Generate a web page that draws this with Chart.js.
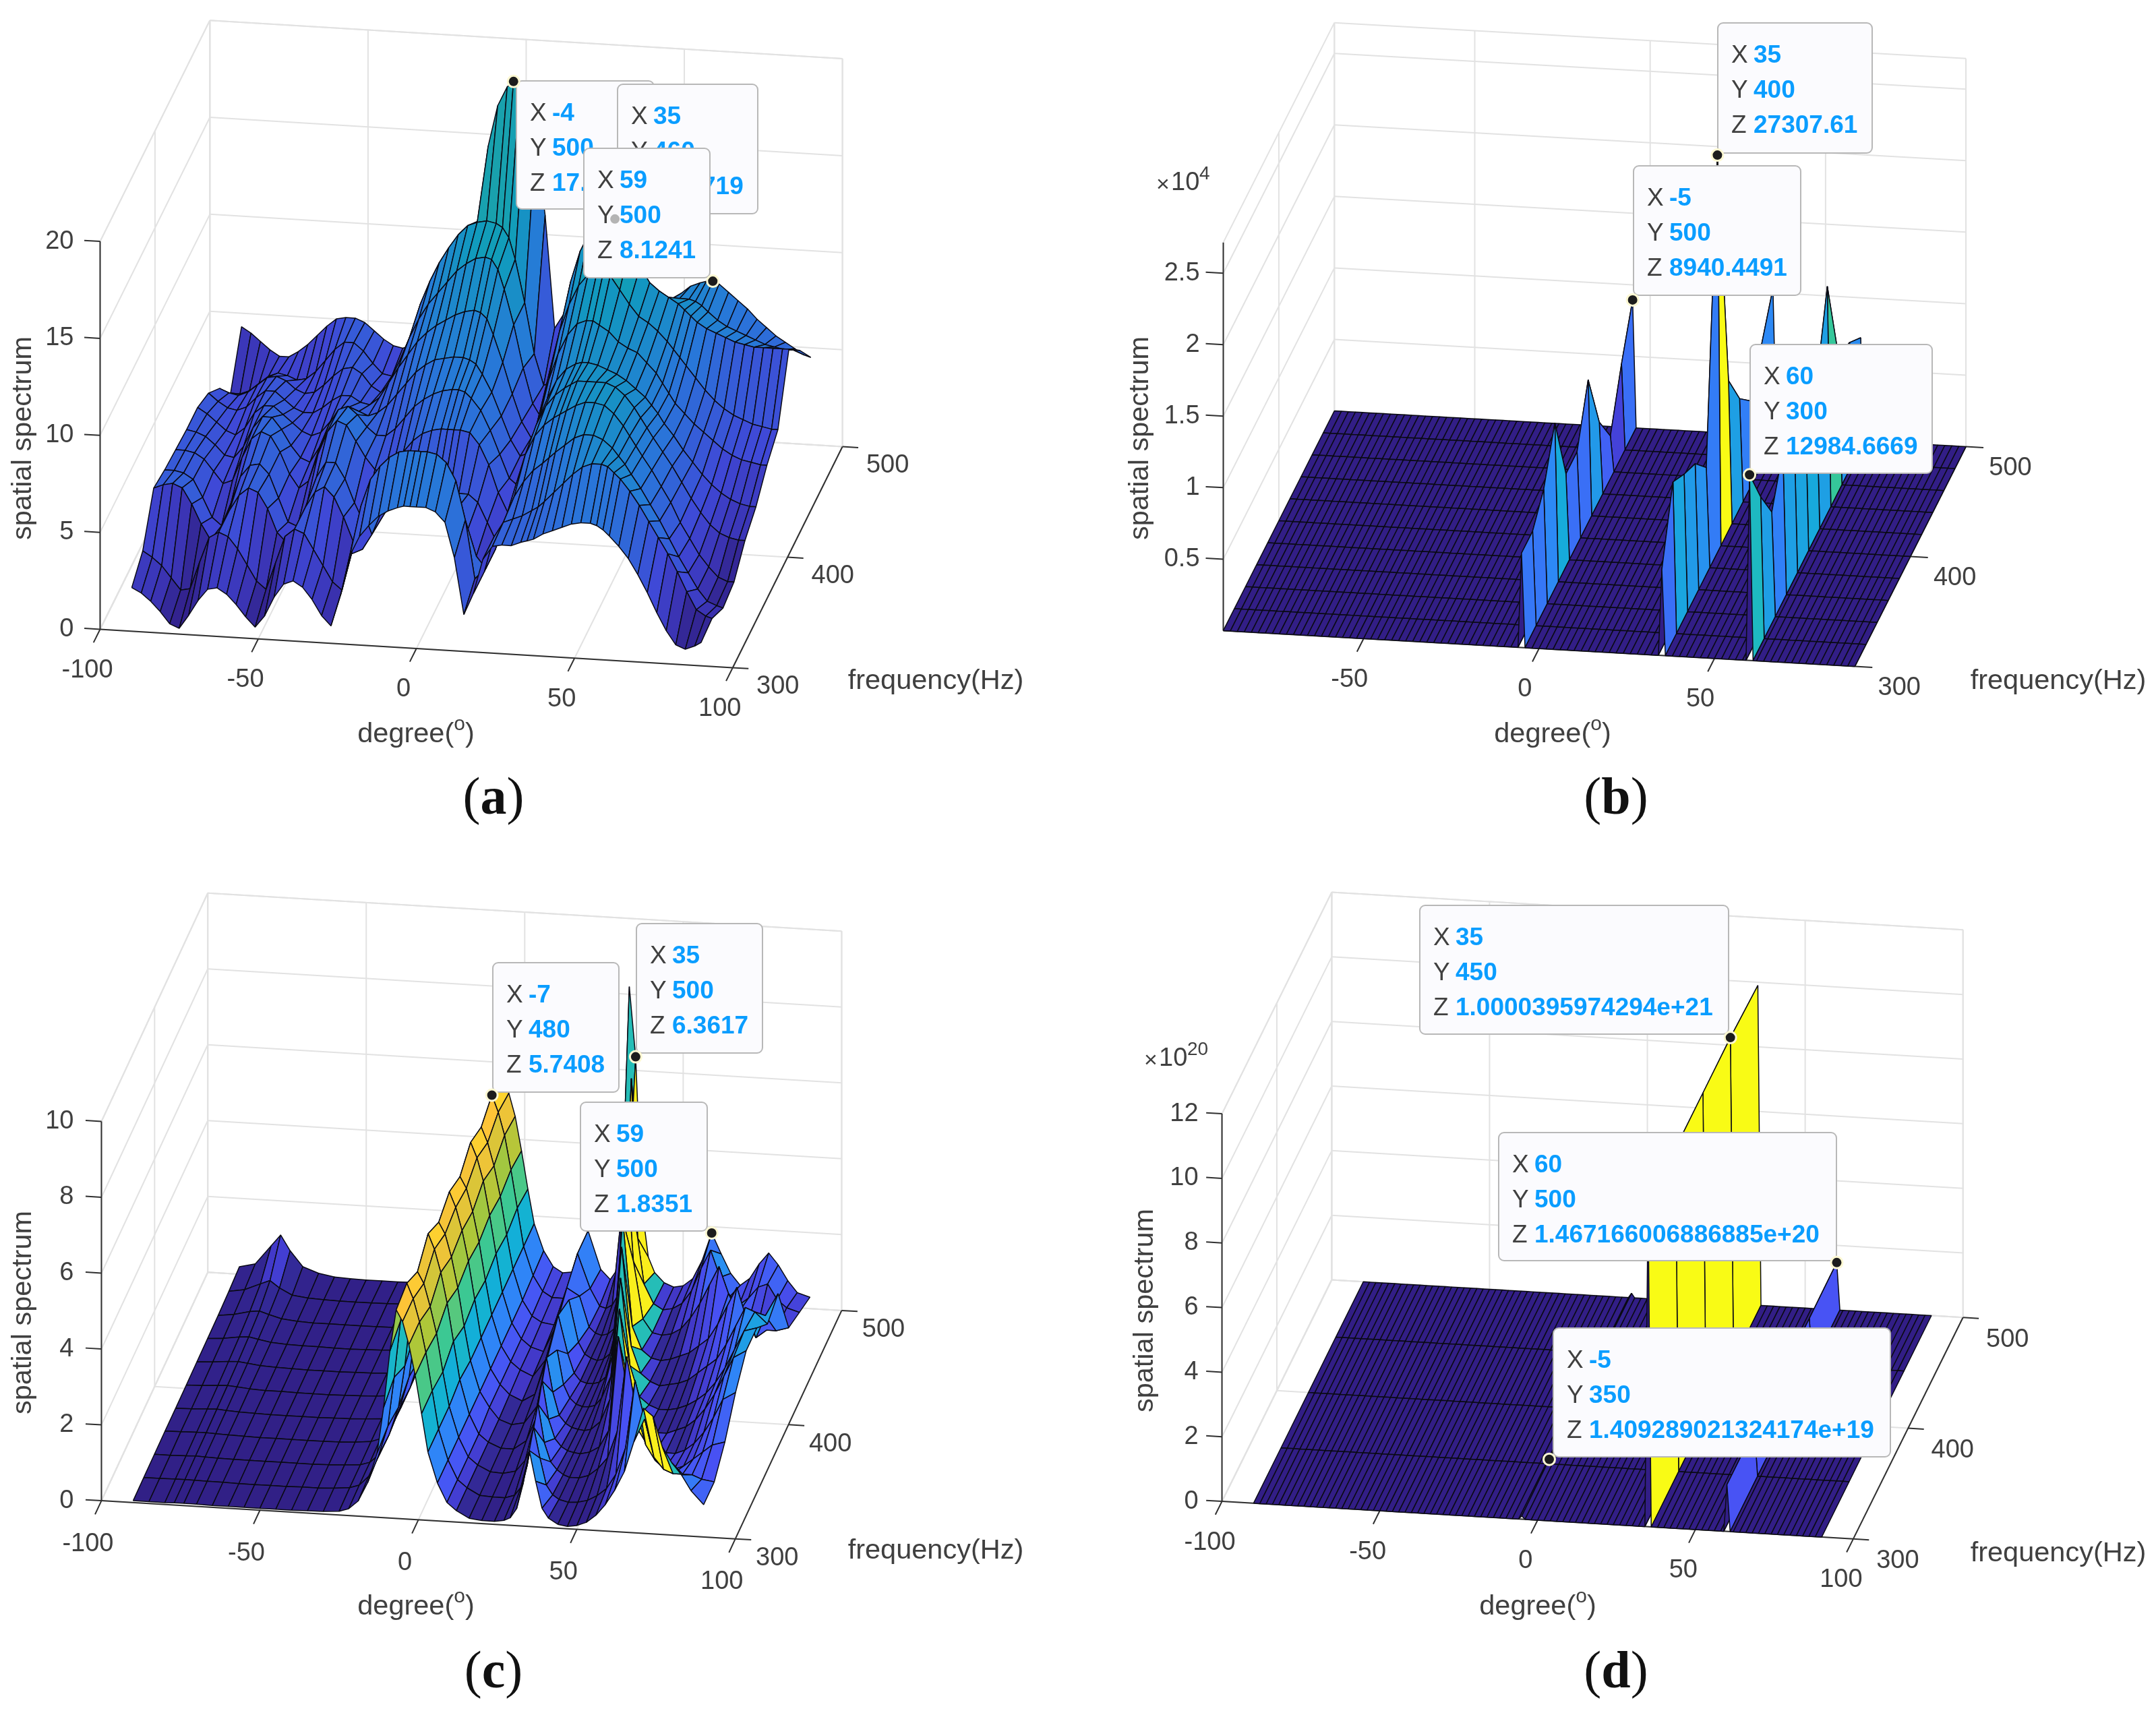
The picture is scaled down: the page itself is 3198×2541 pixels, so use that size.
<!DOCTYPE html>
<html>
<head>
<meta charset="utf-8">
<title>Spatial spectrum</title>
<style>
html, body { margin: 0; background: #fff; }
body { position: relative; width: 3198px; height: 2541px; overflow: hidden; }
canvas { position: absolute; }
</style>
<script src="https://cdn.jsdelivr.net/npm/chart.js@4/dist/chart.umd.min.js"></script>
</head>
<body>
<canvas id="chartA" width="1599" height="1270" style="left:0;top:0"></canvas>
<canvas id="chartB" width="1599" height="1270" style="left:1599px;top:0"></canvas>
<canvas id="chartC" width="1599" height="1271" style="left:0;top:1270px"></canvas>
<canvas id="chartD" width="1599" height="1271" style="left:1599px;top:1270px"></canvas>
<script>
// === DATA ===
const degreeTicks = [-100, -50, 0, 50, 100];
const degreeTicksB = [-50, 0, 50];
const freqTicks = [300, 400, 500];
const zTicksA = [0, 5, 10, 15, 20];
const zTicksB = [0.5, 1, 1.5, 2, 2.5];
const zTicksC = [0, 2, 4, 6, 8, 10];
const zTicksD = [0, 2, 4, 6, 8, 10, 12];

const freqRows = [300, 320, 340, 360, 380, 400, 420, 440, 460, 480, 500];
const freqRowsD = [300, 350, 400, 450, 500];

// (a) read row by row, z in plain units
const degreesA = [-90, -87, -84, -81, -78, -75, -72, -69, -66, -63,
  -60, -57, -54, -51, -48, -45, -42, -39, -36, -33,
  -30, -27, -24, -21, -18, -15, -12, -9, -6,
  -4, -2, 0, 3, 6, 9, 12, 15, 18, 21,
  24, 27, 30, 33, 35, 37, 40, 43, 46, 49,
  52, 55, 57, 59, 61, 64, 67, 70, 73, 76,
  79, 82, 85, 88, 90];
const spectrumA = [
  [2.25,2.0,1.6,1.1,.5,.3,1.0,1.8,2.4,2.5, 2.2,1.7,1.1,.6,1.2,2.2,2.9,3.1,2.8,2.2, 1.4,.9,2.5,4.6,5.6,6.2,6.7,7.0,7.2, 7.3,7.3,7.3,7.3,7.1,6.6,4.8,1.9,3.0,4.8, 5.5,5.6,5.6,5.8,5.9,6.0,6.3,6.5,6.7,6.9, 7.0,7.0,6.9,6.7,6.4,5.9,5.3,4.5,3.6,2.6, 1.7,1.0,.8,1.0,1.2],
  [3.0,2.7,2.3,1.7,1.1,1.2,2.6,3.9,4.2,4.0, 3.4,2.6,1.8,1.4,2.8,4.2,4.6,4.4,3.6,2.8, 2.0,1.6,3.5,6.0,7.4,8.1,8.6,8.9,9.0, 9.0,9.0,9.0,8.9,8.5,7.6,5.6,2.6,3.0,4.8, 5.6,5.8,6.0,6.3,6.5,6.8,7.3,7.8,8.3,8.7, 8.9,8.9,8.8,8.5,8.2,7.6,6.9,6.1,5.3,4.5, 3.6,2.6,1.7,1.4,1.3],
  [5.1,5.3,5.4,5.2,4.4,3.4,2.6,3.0,4.2,5.0, 5.4,5.2,4.4,3.2,2.7,3.4,4.6,5.4,5.7,5.2, 4.2,3.0,2.6,3.4,4.6,5.4,5.9,6.2,6.4, 6.5,6.5,6.4,6.0,5.0,3.8,2.6,2.0,3.0,4.5, 5.8,6.6,7.2,7.6,7.9,8.2,8.6,9.0,9.2,9.2, 9.0,8.6,8.2,7.8,7.3,6.6,5.8,5.0,4.1,3.2, 2.4,1.6,1.0,.8,.7],
  [4.9,4.9,4.8,4.5,3.6,2.6,2.2,3.4,4.8,5.4, 5.5,5.0,3.8,2.6,2.4,3.6,5.0,5.8,5.8,5.0, 3.8,2.8,2.6,3.2,4.0,4.6,5.0,5.0,4.8, 4.6,4.5,4.5,4.6,4.6,4.2,3.2,2.2,3.4,5.2, 6.8,7.8,8.4,8.8,9.0,9.2,9.5,9.7,9.7,9.6, 9.2,8.6,8.1,7.6,7.1,6.4,5.6,4.8,3.8,3.0, 2.2,1.6,1.1,.9,.9],
  [4.8,4.8,4.7,4.4,3.8,3.2,3.4,4.6,5.6,6.0, 5.8,5.0,3.9,3.2,3.6,5.0,6.2,6.8,6.6,5.8, 5.0,4.4,4.2,4.8,5.4,6.0,6.4,6.6,6.7, 6.7,6.7,6.7,6.6,6.0,5.0,3.6,2.6,3.8,5.6, 7.2,8.2,8.8,9.2,9.4,9.6,9.6,9.6,9.6,9.4, 9.0,8.4,7.9,7.4,6.9,6.2,5.5,4.7,3.9,3.2, 2.6,2.2,2.0,1.9,1.9],
  [4.7,4.6,4.4,4.0,3.5,3.4,4.0,5.0,5.6,5.6, 5.0,4.2,3.6,3.4,4.2,5.4,6.2,6.4,6.0,5.4, 5.0,5.0,5.4,6.0,6.6,7.0,7.3,7.5,7.6, 7.6,7.5,7.2,6.6,5.6,4.4,3.2,2.8,4.2,6.0, 7.4,8.4,9.0,9.3,9.4,9.4,9.3,9.1,8.9,8.6, 8.2,7.8,7.4,7.0,6.5,5.9,5.2,4.6,4.0,3.5, 3.1,2.8,2.6,2.5,2.5],
  [4.7,4.4,4.0,3.6,3.4,3.8,4.6,5.0,5.0,4.6, 4.2,3.8,3.6,3.8,4.4,5.0,5.2,5.0,4.8,5.0, 5.4,6.0,6.6,7.2,7.6,7.9,8.0,8.1,8.1, 8.0,7.8,7.3,6.4,5.2,4.0,3.2,3.4,5.4,7.2, 8.6,9.6,10.2,10.4,10.4,10.2,9.9,9.4,9.1,8.9, 8.4,7.9,7.4,6.9,6.4,5.9,5.4,5.0,4.6,4.2, 3.9,3.7,3.6,3.5,3.5],
  [4.3,3.9,3.6,3.5,3.7,4.2,4.6,4.6,4.2,3.8, 3.6,3.6,3.9,4.3,4.6,4.6,4.3,4.2,4.6,5.4, 6.2,6.9,7.6,8.1,8.5,8.8,9.1,9.3,9.4, 9.3,9.0,8.2,6.8,5.2,3.8,3.0,4.0,6.6,8.6, 10.0,11.0,11.6,11.9,11.9,11.6,10.9,10.2,9.6,9.3, 8.9,8.4,8.0,7.6,7.2,6.6,6.0,5.5,5.1,4.8, 4.6,4.4,4.3,4.2,4.2],
  [3.4,3.2,3.1,3.3,3.7,4.1,4.2,4.0,3.6,3.4, 3.5,3.9,4.4,4.8,4.9,4.6,4.0,3.7,4.2,5.4, 6.6,7.6,8.4,9.0,9.6,10.2,10.6,10.9,11.0, 10.9,10.4,9.4,7.6,5.4,3.6,2.8,4.6,7.6,10.0, 11.6,12.6,13.1,13.4,13.4,13.2,12.2,11.0,10.2,9.8, 9.5,9.2,8.9,8.6,8.3,8.0,7.8,7.6,7.4,7.3, 7.2,7.2,7.2,7.2,7.2],
  [2.0,2.0,2.2,2.6,3.0,3.2,3.1,2.9,3.0,3.4, 4.0,4.6,5.0,5.0,4.6,4.0,3.5,3.4,4.2,5.6, 7.2,8.4,9.4,10.2,10.9,11.4,11.6,11.7,11.6, 11.4,10.9,9.8,7.6,5.0,3.4,3.6,6.0,6.0,8.6, 9.6,10.2,10.6,10.8,10.8,10.5,9.6,8.6,8.2,8.2, 8.3,8.3,8.2,8.0,7.7,7.3,7.0,6.8,6.6,6.4, 6.2,6.1,6.0,6.0,6.0],
  [4.3,4.0,3.6,3.2,2.9,2.9,3.2,3.6,4.1,4.6, 5.0,5.1,5.1,4.9,4.5,4.1,3.8,3.7,3.9,4.8, 5.7,6.6,7.4,7.9,8.3,10.5,14.4,16.5,17.5, 17.8,17.4,16.6,14.8,11,5.2,6,8.1,4.5,6, 7,7.5,8,8.3,8.3,8.1,7.6,7.1,7.1,7.4, 7.8,8,8.1,8.12,8,7.6,7.2,6.8,6.3,5.9, 5.5,5.2,4.9,4.6,4.5]
];
const markerPointsA = [[-4, 500, 17.7982], [35, 460, 13.3719], [59, 500, 8.1241]];
const tipLinesA = [['-4', '500', '17.7982'], ['35', '460', '13.3719'], ['59', '500', '8.1241']];

// (b) and (d) are flat except for single-degree ridges
const sparseDegrees = [-90, -88, -86, -84, -82, -80, -78, -76, -74, -72, -70, -68, -66, -64, -62, -60, -58, -56, -54, -52,
  -50, -48, -46, -44, -42, -40, -38, -36, -34, -32, -30, -28, -26, -24, -22, -20, -18, -16, -14, -12, -10, -8, -6, -5, -4, -2,
  0, 2, 4, 6, 8, 10, 12, 14, 16, 18, 20, 22, 24, 26, 28, 30, 32, 34, 35, 36, 38, 40, 42, 44, 46, 48, 50, 52, 54, 56, 58, 59, 60, 61, 62,
  64, 66, 68, 70, 72, 74, 76, 78, 80, 82, 84, 86, 88, 90];
const ridgeDegrees = [-5, 35, 60];
const ridgeRowsB = [
  [.66, .66, .8, 1.11, .6, .6, .95, .5, .25, .6, .894],
  [.6, 1.06, .96, .88, .7, 2.7308, 1.0, .72, .55, .8, 1.03],
  [1.2985, .99, .73, 1.0, 1.05, 1.1, 1.0, 1.54, .9, .84, .72]
];
const markerPointsB = [[35, 400, 2.7308], [-5, 500, .894], [60, 300, 1.2985]];
const tipLinesB = [['35', '400', '27307.61'], ['-5', '500', '8940.4491'], ['60', '300', '12984.6669']];

// (c) read row by row
const degreesC = [-90, -85, -80, -77, -74, -70, -65, -60, -55, -50,
  -45, -40, -35, -30, -25, -22, -19, -16, -13, -11,
  -9, -7, -5, -3, -1, 1, 3, 6, 9, 12,
  16, 20, 24, 27, 29, 31, 33, 35, 37, 39,
  41, 44, 47, 50, 53, 56, 59, 62, 65, 68,
  71, 74, 77, 80, 83, 86, 90];
const spectrumC = [
  [.05,.05,.05,.06,.06,.06,.05,.05,.05,.05, .05,.05,.06,.07,.1,.18,.4,.9,1.7,2.9, 4.4,5.5,5.2,4.6,3.8,2.8,1.8,1.0,.5,.3, .12,.08,.08,.12,.2,.45,1.1,2.0,1.2,.5, .25,.1,.06,.1,.2,.4,.7,1.1,1.6,2.4, 3.3,3.1,2.3,1.9,1.6,1.2,.85],
  [.06,.06,.07,.07,.07,.06,.06,.05,.05,.05, .05,.06,.06,.08,.12,.2,.45,1.0,1.8,3.1, 4.6,5.6,5.2,4.6,3.8,2.8,1.8,1.0,.5,.3, .12,.1,.1,.18,.4,1.0,2.0,1.2,.5,.25, .14,.08,.1,.16,.3,.5,.9,1.6,3.4,2.4, 1.4,1.1,1.0,1.0,1.0,.9,.85],
  [.07,.07,.08,.09,.08,.07,.06,.06,.06,.06, .06,.06,.07,.09,.12,.2,.42,.95,1.7,2.8, 4.3,5.3,5.0,4.4,3.7,2.7,1.8,1.0,.5,.3, .14,.12,.2,.5,.9,2.0,1.0,.5,.3,.18, .12,.12,.2,.4,.7,1.4,3.4,2.0,1.1,.7, .5,.5,.6,.8,1.0,1.2,1.3],
  [.08,.09,.1,.1,.09,.08,.07,.06,.06,.06, .06,.06,.07,.09,.13,.22,.48,1.05,1.9,3.1, 4.7,5.7,5.3,4.7,3.9,2.9,1.9,1.0,.5,.3, .16,.16,.4,1.0,2.0,1.0,.5,.3,.2,.16, .14,.2,.35,.8,3.3,1.8,.9,.5,.35,.3, .3,.4,.6,.9,1.3,1.8,2.0],
  [.08,.09,.11,.12,.1,.08,.07,.06,.06,.06, .06,.07,.08,.1,.13,.2,.44,1.0,1.8,2.9, 4.4,5.4,5.1,4.5,3.7,2.7,1.8,1.0,.6,.3, .18,.25,.7,2.0,1.1,.5,.3,.2,.16,.14, .18,.4,1.0,3.4,1.4,.6,.3,.2,.2,.3, .4,.6,.9,1.3,1.8,2.3,2.5],
  [.09,.1,.13,.14,.12,.09,.07,.07,.06,.06, .06,.07,.08,.1,.14,.22,.47,1.05,1.9,3.0, 4.6,5.6,5.2,4.6,3.8,2.8,1.8,1.0,.6,.35, .2,.4,1.4,1.6,.7,.35,.2,.15,.15,.2, .4,1.0,3.6,1.3,.5,.3,.2,.2,.25,.35, .5,.7,1.0,1.4,1.9,2.4,2.5],
  [.1,.12,.16,.17,.14,.1,.08,.07,.06,.06, .06,.07,.08,.1,.14,.22,.45,1.0,1.8,2.9, 4.4,5.4,5.1,4.5,3.7,2.7,1.8,1.0,.6,.4, .25,.7,1.9,.9,.4,.2,.15,.15,.2,.35, .9,3.8,1.2,.5,.3,.2,.25,.3,.4,.6, .8,1.0,1.4,1.9,2.4,2.3,2.0],
  [.11,.14,.2,.22,.17,.11,.08,.07,.07,.06, .06,.07,.08,.11,.15,.24,.5,1.1,2.0,3.1, 4.7,5.7,5.3,4.7,3.8,2.8,1.8,1.0,.6,.4, .3,1.0,1.7,.6,.3,.2,.15,.2,.35,.9, 3.9,1.1,.5,.3,.25,.3,.4,.5,.7,.9, 1.3,1.8,2.3,1.5,1.0,1.6,2.2],
  [.12,.17,.27,.3,.22,.13,.09,.07,.07,.07, .07,.07,.08,.11,.15,.24,.48,1.05,1.9,3.0, 4.5,5.5,5.1,4.5,3.7,2.7,1.8,1.0,.6,.45, .4,1.4,1.2,.4,.25,.2,.25,.4,.9,4.6, 2.2,.7,.35,.3,.35,.5,.8,1.2,1.7,2.2, 1.5,1.0,.7,.6,.6,.6,.7],
  [.15,.22,.4,.5,.32,.15,.1,.08,.07,.07, .07,.08,.09,.11,.16,.25,.5,1.1,2.0,3.2, 4.7,5.74,5.3,4.7,3.8,2.8,1.8,1.05,.65,.5, .5,1.7,.8,.35,.3,.4,.7,1.6,6.4,2.2, 1.0,.5,.35,.4,.55,.9,1.5,2.0,1.3,.8, .6,.8,1.1,1.2,.8,.6,.5],
  [.2,.3,.8,1.1,.7,.3,.15,.08,.06,.05, .05,.05,.06,.1,.15,.25,.5,1.1,2.0,3.2, 4.7,5.6,5.2,4.6,3.7,2.7,1.8,1.1,.7,.55, .6,1.7,.7,.45,.7,2.6,8.2,6.36,2.4,1.1, .7,.45,.35,.4,.6,1.1,1.84,1.3,.8,.5, .7,1.1,1.4,1.1,.7,.4,.3]
];
// degree of the bright streak on each row of (c), it slides with frequency
const streakDegreesC = [72, 65, 59, 53, 50, 47, 44, 41, 39, 37, 34];
const markerPointsC = [[-7, 480, 5.7408], [35, 500, 6.3617], [59, 500, 1.8351]];
const tipLinesC = [['-7', '480', '5.7408'], ['35', '500', '6.3617'], ['59', '500', '1.8351']];

// (d) z in units of 1e20
const ridgeRowsD = [
  [.1, .1409, .12, .13, .14],
  [10.1, 10.0, 10.0, 10.0004, 9.9],
  [1.45, 1.45, 1.45, 1.45, 1.4672]
];
const markerPointsD = [[35, 450, 10.0004], [60, 500, 1.4672], [-5, 350, .1409]];
const tipLinesD = [['35', '450', '1.0000395974294e+21'], ['60', '500', '1.467166006886885e+20'], ['-5', '350', '1.409289021324174e+19']];

// parula colormap
const parula = [[62, 38, 168], [72, 82, 244], [46, 135, 247], [18, 177, 214], [55, 200, 151], [171, 199, 57], [254, 195, 56], [249, 251, 21]];

// === LAYOUT (page pixels) ===
const FONT = '"Liberation Sans", Arial, sans-serif';
const panels = [
  {
    id: 'chartA', left: 0, top: 0, width: 1599, height: 1270, letter: 'a', captionAt: [732, 1187],
    origin: [139, 939], ex: [4.76, .29], ey: [.826, -1.67], ez: 29.3, dMin: -100, dMax: 100, zMax: 20,
    degrees: degreesA, freqs: freqRows, z: spectrumA, cMax: 25, bodyShade: .88, floorShade: .8,
    degTicks: degreeTicks, zTicks: zTicksA, zLabels: ['0', '5', '10', '15', '20'], zLabelGap: 39,
    degOffset: [-19, 61], freqOffset: [67, 28], freqTitle: [1388, 1011], degTitle: [617, 1090], zTitle: [35, 650],
    markers: markerPointsA, markerHidden: [false, true, false], tipLines: tipLinesA,
    tipBoxes: [[766, 120, 970, 310], [916, 125, 1124, 317], [866, 220, 1053, 412]]
  },
  {
    id: 'chartB', left: 1599, top: 0, width: 1599, height: 1270, letter: 'b', captionAt: [2397, 1187],
    origin: [1806, 941], ex: [5.28, .3], ey: [.836, -1.66], ez: 216, dMin: -90, dMax: 90, zMax: 2.715,
    degrees: sparseDegrees, freqs: freqRows, ridges: ridgeRowsB, cMax: 2.73, bodyShade: 1, floorShade: .8,
    degTicks: degreeTicksB, zTicks: zTicksB, zLabels: ['0.5', '1', '1.5', '2', '2.5'], zLabelGap: 35,
    degOffset: [-21, 61], freqOffset: [66, 32], freqTitle: [3053, 1011], degTitle: [2303, 1090], zTitle: [1692, 650],
    exponent: ['4', 1715, 272],
    markers: markerPointsB, markerHidden: [false, false, false], tipLines: tipLinesB,
    tipBoxes: [[2548, 34, 2777, 227], [2423, 246, 2671, 438], [2596, 511, 2866, 702]]
  },
  {
    id: 'chartC', left: 0, top: 1270, width: 1599, height: 1271, letter: 'c', captionAt: [732, 2483],
    origin: [141, 2232], ex: [4.77, .288], ey: [.8, -1.725], ez: 57.3, dMin: -100, dMax: 100, zMax: 10,
    degrees: degreesC, freqs: freqRows, z: spectrumC, cMax: 6.4, bodyShade: 1, floorShade: .78, streak: streakDegreesC,
    degTicks: degreeTicks, zTicks: zTicksC, zLabels: ['0', '2', '4', '6', '8', '10'], zLabelGap: 41,
    degOffset: [-20, 64], freqOffset: [62, 29], freqTitle: [1388, 2301], degTitle: [617, 2384], zTitle: [35, 1947],
    markers: markerPointsC, markerHidden: [false, false, false], tipLines: tipLinesC,
    tipBoxes: [[731, 1428, 918, 1620], [944, 1370, 1131, 1562], [861, 1635, 1049, 1826]]
  },
  {
    id: 'chartD', left: 1599, top: 1270, width: 1599, height: 1271, letter: 'd', captionAt: [2397, 2483],
    origin: [1804, 2233], ex: [4.75, .284], ey: [.826, -1.673], ez: 48.8, dMin: -100, dMax: 100, zMax: 12,
    degrees: sparseDegrees, freqs: freqRowsD, ridges: ridgeRowsD, cMax: 10, bodyShade: 1, floorShade: .8,
    degTicks: degreeTicks, zTicks: zTicksD, zLabels: ['0', '2', '4', '6', '8', '10', '12'], zLabelGap: 35,
    degOffset: [-18, 61], freqOffset: [66, 33], freqTitle: [3053, 2305], degTitle: [2281, 2384], zTitle: [1699, 1944],
    exponent: ['20', 1697, 1571],
    markers: markerPointsD, markerHidden: [false, false, false], tipLines: tipLinesD,
    tipBoxes: [[2106, 1343, 2564, 1534], [2223, 1680, 2724, 1870], [2304, 1970, 2804, 2161]]
  }
];

// === HELPERS ===
function parulaColor(t, shade) {
  const v = Math.max(0, Math.min(1, t)) * (parula.length - 1);
  const i = Math.min(parula.length - 2, Math.floor(v));
  const c = parula[i].map((a, k) => (a + (parula[i + 1][k] - a) * (v - i)) * shade);
  return 'rgb(' + c.map(Math.round).join(',') + ')';
}

// oblique projection of a (degree, frequency, z) point, in canvas units
function project(p, d, f, z) {
  return {
    x: p.origin[0] - p.left + (d - p.dMin) * p.ex[0] + (f - 300) * p.ey[0],
    y: p.origin[1] - p.top + (d - p.dMin) * p.ex[1] + (f - 300) * p.ey[1] - z * p.ez
  };
}

// value of row j at column i, also for the sparse ridge tables
function zAt(p, j, i) {
  if (p.z) return p.z[j][i];
  const k = ridgeDegrees.indexOf(p.degrees[i]);
  return k < 0 ? 0 : p.ridges[k][j];
}

function lineSet(points, color, width) {
  return { data: points, showLine: true, fill: false, borderColor: color, borderWidth: width, pointRadius: 0, clip: false };
}

function buildDatasets(p) {
  const layers = [];
  const grid = '#e2e2e2', axis = '#303030';
  const fMin = 300, fMax = 500;
  const wallLevels = [0].concat(p.zTicks, [p.zMax]);

  // back wall, side wall and floor grid
  wallLevels.forEach(z => {
    layers.push(lineSet([project(p, p.dMin, fMax, z), project(p, p.dMax, fMax, z)], grid, 2));
    layers.push(lineSet([project(p, p.dMin, fMin, z), project(p, p.dMin, fMax, z)], grid, 2));
  });
  [p.dMin].concat(p.degTicks, [p.dMax]).forEach(d => {
    layers.push(lineSet([project(p, d, fMax, 0), project(p, d, fMax, p.zMax)], grid, 2));
    layers.push(lineSet([project(p, d, fMin, 0), project(p, d, fMax, 0)], grid, 2));
  });
  freqTicks.forEach(f => {
    layers.push(lineSet([project(p, p.dMin, f, 0), project(p, p.dMin, f, p.zMax)], grid, 2));
    layers.push(lineSet([project(p, p.dMin, f, 0), project(p, p.dMax, f, 0)], grid, 2));
  });

  // axes and tick marks
  layers.push(lineSet([project(p, p.dMin, fMin, 0), project(p, p.dMin, fMin, p.zMax)], axis, 2));
  layers.push(lineSet([project(p, p.dMin, fMin, 0), project(p, p.dMax, fMin, 0)], axis, 2));
  layers.push(lineSet([project(p, p.dMax, fMin, 0), project(p, p.dMax, fMax, 0)], axis, 2));
  p.zTicks.forEach(z => layers.push(lineSet([project(p, p.dMin, fMin, z), project(p, p.dMin - 5, fMin, z)], axis, 2)));
  p.degTicks.forEach(d => layers.push(lineSet([project(p, d, fMin, 0), project(p, d, fMin - 12, 0)], axis, 2)));
  freqTicks.forEach(f => layers.push(lineSet([project(p, p.dMax, f, 0), project(p, p.dMax + 5, f, 0)], axis, 2)));

  // surface, back rows first
  for (let j = p.freqs.length - 2; j >= 0; j--) {
    for (let i = 0; i < p.degrees.length - 1; i++) {
      const d0 = p.degrees[i], d1 = p.degrees[i + 1], f0 = p.freqs[j], f1 = p.freqs[j + 1];
      const first = zAt(p, j, i);
      let t = first / p.cMax;
      if (p.streak) {
        const off = Math.abs(d0 - p.streak[j]);
        if (off < 2.5) t = .97;
        else if (off < 6) t = Math.max(t, .5);
      }
      const shade = first / p.cMax < .05 ? p.floorShade : p.bodyShade;
      const quad = [
        project(p, d0, f0, first), project(p, d1, f0, zAt(p, j, i + 1)),
        project(p, d1, f1, zAt(p, j + 1, i + 1)), project(p, d0, f1, zAt(p, j + 1, i)),
        project(p, d0, f0, first)
      ];
      layers.push({
        data: quad, showLine: true, fill: 'shape', backgroundColor: parulaColor(t, shade),
        borderColor: '#0a0a14', borderWidth: 1.5, borderJoinStyle: 'bevel', pointRadius: 0, clip: false
      });
    }
  }

  // data cursors on top of everything, the tip boxes are painted just before them
  p.markers.forEach((m, k) => {
    const hidden = p.markerHidden[k];
    layers.push({
      data: [project(p, m[0], m[1], m[2])], showLine: false, pointRadius: hidden ? 7 : 8.5,
      pointBackgroundColor: hidden ? '#b4b4b4' : '#1c1c1c',
      pointBorderColor: hidden ? '#b4b4b4' : '#fdf8d2', pointBorderWidth: hidden ? 0 : 3, clip: false
    });
  });
  // chart.js paints the first dataset last
  return layers.reverse();
}

function drawText(ctx, text, x, y, font, color, align) {
  ctx.font = font;
  ctx.fillStyle = color;
  ctx.textAlign = align || 'center';
  ctx.textBaseline = 'middle';
  ctx.fillText(text, x, y);
}

function panelPlugin(p) {
  const markerCount = p.markers.length;
  return {
    id: 'panelText',
    beforeDatasetDraw(chart, args) {
      if (args.index !== markerCount - 1) return;
      const ctx = chart.ctx;
      ctx.save();
      p.tipBoxes.forEach((box, k) => {
        const l = box[0] - p.left, t = box[1] - p.top;
        ctx.beginPath();
        ctx.roundRect(l, t, box[2] - box[0], box[3] - box[1], 8);
        ctx.fillStyle = '#fbfbfe';
        ctx.fill();
        ctx.lineWidth = 2;
        ctx.strokeStyle = '#b8b8b8';
        ctx.stroke();
        ['X', 'Y', 'Z'].forEach((name, row) => {
          const y = t + 49 + row * 52;
          drawText(ctx, name, l + 20, y, '37px ' + FONT, '#404040', 'left');
          drawText(ctx, p.tipLines[k][row], l + 53, y, 'bold 37px ' + FONT, '#0a9dff', 'left');
        });
      });
      ctx.restore();
    },
    afterDatasetsDraw(chart) {
      const ctx = chart.ctx;
      const sx = chart.scales.x, sy = chart.scales.y;
      const px = pt => ({ x: sx.getPixelForValue(pt.x), y: sy.getPixelForValue(pt.y) });
      const tickFont = '38px ' + FONT, titleFont = '41.5px ' + FONT, ink = '#404040';
      ctx.save();
      p.zTicks.forEach((z, k) => {
        const a = px(project(p, p.dMin, 300, z));
        drawText(ctx, p.zLabels[k], a.x - p.zLabelGap, a.y, tickFont, ink, 'right');
      });
      p.degTicks.forEach(d => {
        const a = px(project(p, d, 300, 0));
        drawText(ctx, String(d), a.x + p.degOffset[0], a.y + p.degOffset[1], tickFont, ink);
      });
      freqTicks.forEach(f => {
        const a = px(project(p, p.dMax, f, 0));
        drawText(ctx, String(f), a.x + p.freqOffset[0], a.y + p.freqOffset[1], tickFont, ink);
      });
      drawText(ctx, 'frequency(Hz)', p.freqTitle[0] - p.left, p.freqTitle[1] - p.top, titleFont, ink);

      // degree(o) with a raised o
      const dx = p.degTitle[0] - p.left, dy = p.degTitle[1] - p.top;
      ctx.font = titleFont;
      const w1 = ctx.measureText('degree(').width, w3 = ctx.measureText(')').width;
      ctx.font = '30px ' + FONT;
      const w2 = ctx.measureText('o').width;
      const startX = dx - (w1 + w2 + w3) / 2;
      drawText(ctx, 'degree(', startX, dy, titleFont, ink, 'left');
      drawText(ctx, 'o', startX + w1, dy - 15, '30px ' + FONT, ink, 'left');
      drawText(ctx, ')', startX + w1 + w2, dy, titleFont, ink, 'left');

      ctx.save();
      ctx.translate(p.zTitle[0] - p.left, p.zTitle[1] - p.top);
      ctx.rotate(-Math.PI / 2);
      drawText(ctx, 'spatial spectrum', 0, 0, titleFont, ink);
      ctx.restore();

      if (p.exponent) {
        const ex = p.exponent[1] - p.left, ey = p.exponent[2] - p.top;
        drawText(ctx, '\u00d7', ex, ey + 3, '34px ' + FONT, ink, 'left');
        drawText(ctx, '10', ex + 22, ey, '38px ' + FONT, ink, 'left');
        drawText(ctx, p.exponent[0], ex + 64, ey - 14, '28px ' + FONT, ink, 'left');
      }

      // caption: roman brackets, bold letter
      const cx = p.captionAt[0] - p.left, cy = p.captionAt[1] - p.top;
      const serif = '"Liberation Serif", serif';
      ctx.font = '78px ' + serif;
      const bw = ctx.measureText('(').width;
      ctx.font = 'bold 78px ' + serif;
      const lw = ctx.measureText(p.letter).width;
      const x0 = cx - (2 * bw + lw) / 2;
      drawText(ctx, '(', x0, cy, '78px ' + serif, '#111', 'left');
      drawText(ctx, p.letter, x0 + bw, cy, 'bold 78px ' + serif, '#111', 'left');
      drawText(ctx, ')', x0 + bw + lw, cy, '78px ' + serif, '#111', 'left');
      ctx.restore();
    }
  };
}

// === CHARTS ===
panels.forEach(p => {
  new Chart(document.getElementById(p.id), {
    type: 'scatter',
    data: { datasets: buildDatasets(p) },
    options: {
      animation: false,
      responsive: false,
      devicePixelRatio: 1,
      events: [],
      layout: { padding: 0 },
      plugins: { legend: { display: false }, tooltip: { enabled: false } },
      scales: {
        x: { type: 'linear', display: false, min: 0, max: p.width },
        y: { type: 'linear', display: false, min: 0, max: p.height, reverse: true }
      }
    },
    plugins: [panelPlugin(p)]
  });
});
</script>
</body>
</html>
